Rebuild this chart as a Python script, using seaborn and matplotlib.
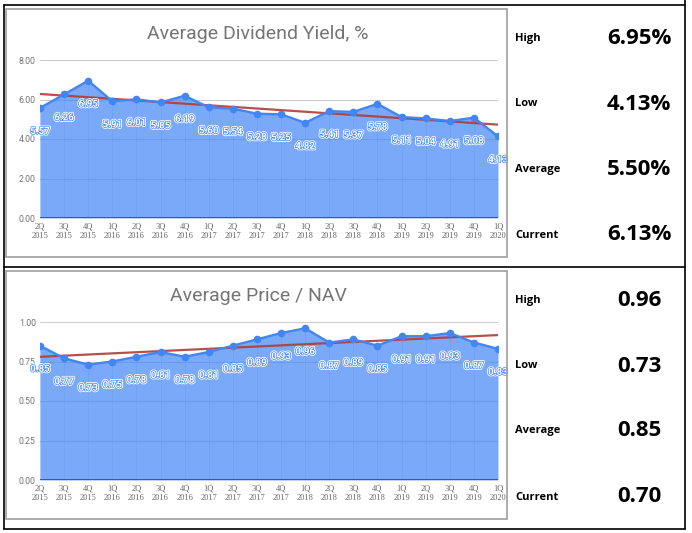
import numpy as np
import pandas as pd
import matplotlib
matplotlib.use("Agg")
import matplotlib.pyplot as plt
import matplotlib.patheffects as pe
from matplotlib.patches import Rectangle
from matplotlib.lines import Line2D
import seaborn as sns

# data
quarters = ["2Q\n2015", "3Q\n2015", "4Q\n2015",
            "1Q\n2016", "2Q\n2016", "3Q\n2016", "4Q\n2016",
            "1Q\n2017", "2Q\n2017", "3Q\n2017", "4Q\n2017",
            "1Q\n2018", "2Q\n2018", "3Q\n2018", "4Q\n2018",
            "1Q\n2019", "2Q\n2019", "3Q\n2019", "4Q\n2019",
            "1Q\n2020"]
div_yield = [5.57, 6.26, 6.95, 5.91, 6.01, 5.85, 6.19, 5.60, 5.54, 5.28,
             5.25, 4.82, 5.41, 5.37, 5.78, 5.11, 5.04, 4.91, 5.08, 4.13]
price_nav = [0.85, 0.77, 0.73, 0.75, 0.78, 0.81, 0.78, 0.81, 0.85, 0.89,
             0.93, 0.96, 0.87, 0.89, 0.85, 0.91, 0.91, 0.93, 0.87, 0.83]

stat_names = ["High", "Low", "Average", "Current"]
yield_stats = ["6.95%", "4.13%", "5.50%", "6.13%"]
nav_stats = ["0.96", "0.73", "0.85", "0.70"]

yield_ticks = [0, 2, 4, 6, 8]
nav_ticks = [0, 0.25, 0.5, 0.75, 1.0]

sns.set_style("white")
plt.rcParams["font.family"] = ["Roboto", "DejaVu Sans"]

BLUE = "#4285f4"
TREND = "#b03d38"
W, H = 692, 533


def fx(px):
    return px / W


def fy(py):
    return 1 - py / H


fig = plt.figure(figsize=(W / 100, H / 100), dpi=100)


def draw_panel(values, title, ticks, stats, off):
    df = pd.DataFrame({"pos": range(len(values)), "value": values})

    ax = fig.add_axes([fx(40), fy(218 + off), (498 - 40) / W, (218 - 60) / H])

    ax.fill_between(df["pos"], df["value"], color=BLUE, alpha=0.7, lw=0, zorder=1)
    ax.vlines(df["pos"], 0, df["value"], color="#3b6fd0", lw=0.5, alpha=0.15, zorder=1.5)
    ax.axhline(0, color="#34528f", lw=1.3, zorder=2)

    sns.regplot(x="pos", y="value", data=df, ax=ax, scatter=False, ci=None,
                color=TREND, line_kws=dict(lw=1.6, alpha=0.9, zorder=3))
    sns.lineplot(x="pos", y="value", data=df, ax=ax, color=BLUE, lw=1.7,
                 marker="o", markersize=5.5, markeredgewidth=0, zorder=4)

    for p, v in zip(df["pos"], df["value"]):
        ax.annotate(f"{v:.2f}", (p, v), xytext=(0, -23), textcoords="offset pixels",
                    ha="center", va="center", fontsize=7, fontweight="bold",
                    color="white", zorder=5, annotation_clip=False,
                    path_effects=[pe.Stroke(linewidth=2.2, foreground="white"),
                                  pe.Stroke(linewidth=1.0, foreground=BLUE),
                                  pe.Normal()])

    ax.set_xlim(0, len(values) - 1)
    ax.set_ylim(ticks[0], ticks[-1])
    ax.set_yticks(ticks)
    ax.set_yticklabels([f"{t:.2f}" for t in ticks], fontsize=6.3, color="#757575")
    ax.set_xticks(df["pos"])
    ax.set_xticklabels(quarters, fontsize=6, color="#666666",
                       fontfamily="Liberation Serif", linespacing=1.25)
    ax.tick_params(length=0, pad=3)
    ax.grid(axis="y", color="#cccccc", lw=0.8)
    ax.set_axisbelow(True)
    ax.set_xlabel("")
    ax.set_ylabel("")
    sns.despine(ax=ax, left=True, bottom=True)

    fig.text(fx(258), fy(34 + off), title, ha="center", va="center",
             fontsize=14, color="#757575")

    fig.add_artist(Rectangle((fx(6), fy(257 + off)), (507 - 6) / W, (257 - 9) / H,
                             transform=fig.transFigure, fill=False,
                             edgecolor="#9e9e9e", lw=1.2))

    for row, (name, val) in enumerate(zip(stat_names, stats)):
        yy = [38, 104, 169, 235][row] + off
        fig.text(fx(515), fy(yy), name, ha="left", va="center", fontsize=8,
                 fontweight="bold", fontfamily="Open Sans", color="black")
        fig.text(fx(639), fy(yy), val, ha="center", va="center", fontsize=16,
                 fontweight="bold", fontfamily="Open Sans", color="black")


draw_panel(div_yield, "Average Dividend Yield, %", yield_ticks, yield_stats, 0)
draw_panel(price_nav, "Average Price / NAV", nav_ticks, nav_stats, 262)

# table borders
for x0, y0, x1, y1 in [(4, 5, 685, 5), (4, 267, 685, 267), (4, 529, 685, 529),
                       (4, 5, 4, 529), (685, 0, 685, 529)]:
    fig.add_artist(Line2D([fx(x0), fx(x1)], [fy(y0), fy(y1)], color="black", lw=1.2))

fig.savefig("out.png", dpi=100)
